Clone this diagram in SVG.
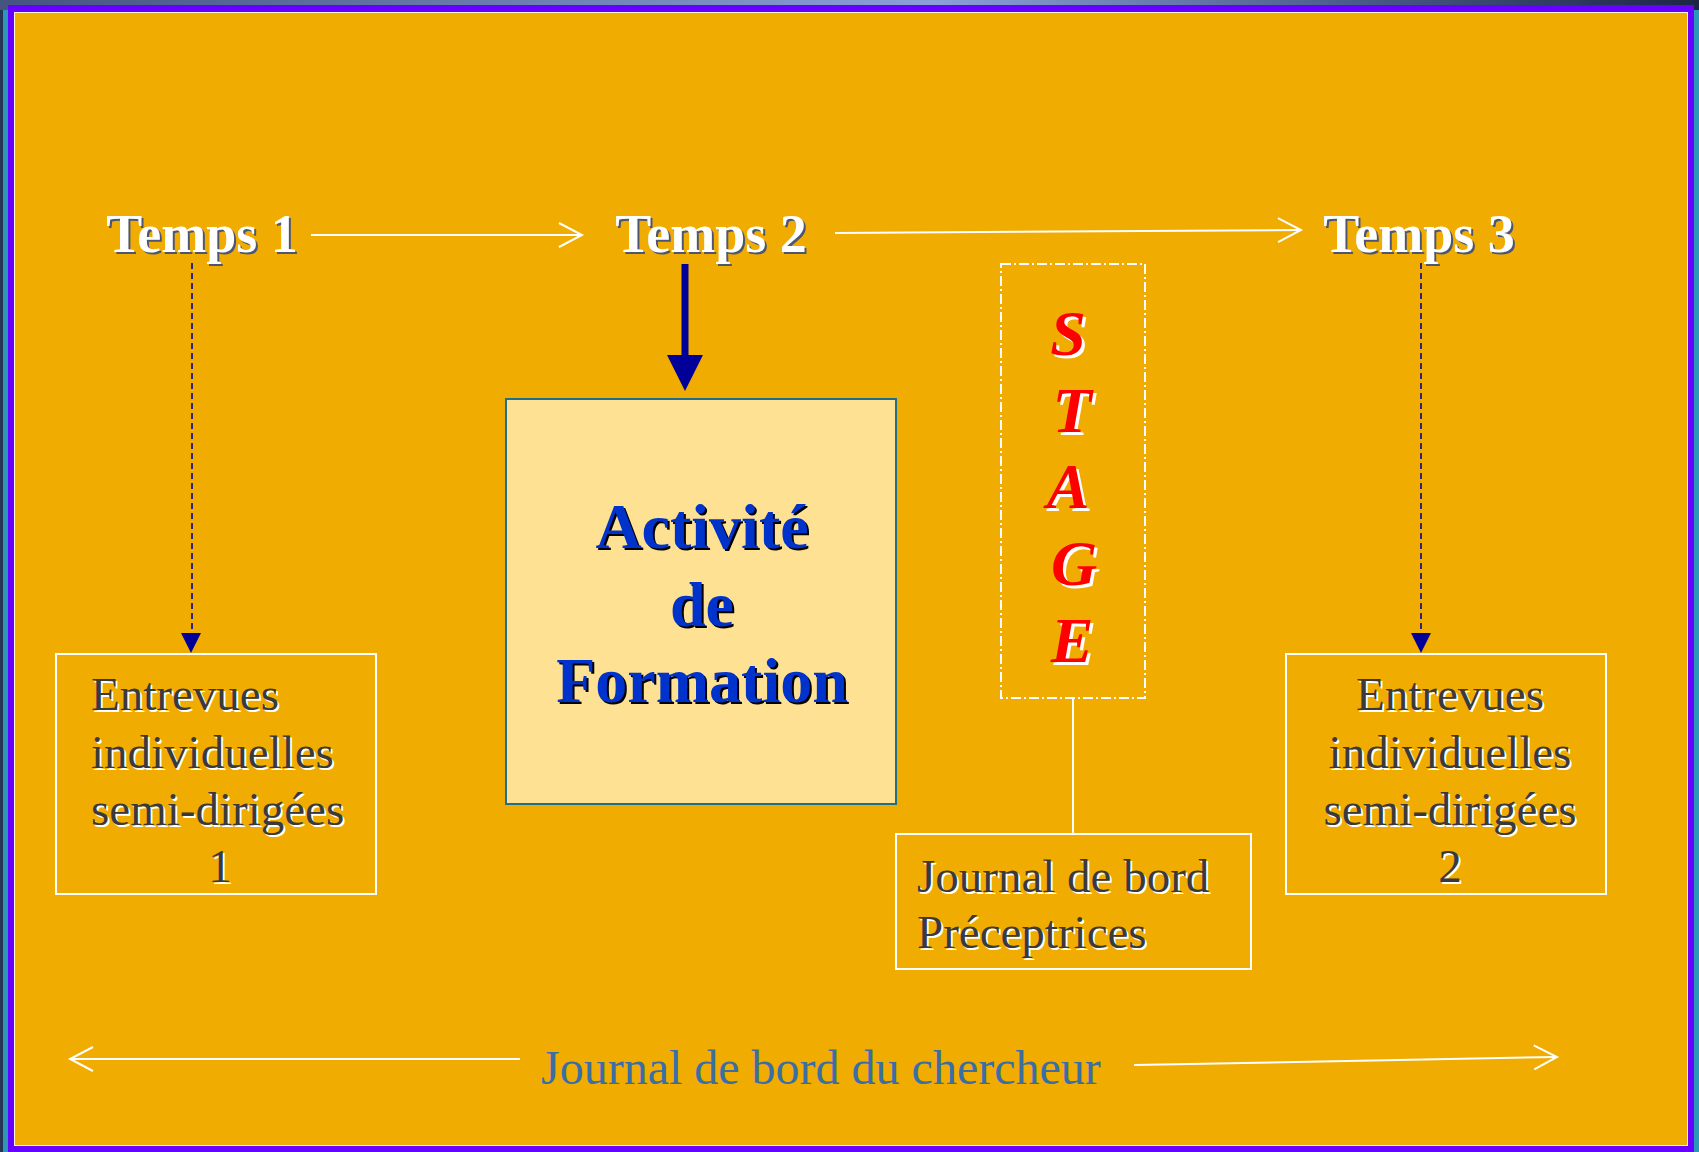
<svg xmlns="http://www.w3.org/2000/svg" width="1699" height="1152" viewBox="0 0 1699 1152">
<defs>
<linearGradient id="topg" x1="0" y1="0" x2="1" y2="0">
<stop offset="0" stop-color="#45537f"/>
<stop offset="0.55" stop-color="#8aa0d6"/>
<stop offset="0.8" stop-color="#4a5a88"/>
<stop offset="1" stop-color="#1c2644"/>
</linearGradient>
<marker id="open" markerUnits="userSpaceOnUse" markerWidth="30" markerHeight="30" refX="24" refY="13" orient="auto">
<path d="M1,1 L24,13 L1,25" fill="none" stroke="#ffffff" stroke-width="2"/>
</marker>
<marker id="tri" markerUnits="userSpaceOnUse" markerWidth="22" markerHeight="22" refX="20" refY="10" orient="auto">
<path d="M0,0 L20,10 L0,20 Z" fill="#000099"/>
</marker>
</defs>
<style>
.temps{font-family:"Liberation Serif","Times New Roman",serif;font-weight:bold;font-size:54px;text-anchor:middle}
.body{font-family:"Liberation Serif","Times New Roman",serif;font-size:47px}
.act{font-family:"Liberation Serif","Times New Roman",serif;font-weight:bold;font-size:64px;text-anchor:middle}
.stage{font-family:"Liberation Serif","Times New Roman",serif;font-weight:bold;font-style:italic;font-size:64px;text-anchor:middle}
.wline{stroke:#ffffff;stroke-width:2;fill:none}
.dash{stroke:#000099;stroke-width:1.6;stroke-dasharray:6 4;fill:none}
.box{fill:none;stroke:#ffffff;stroke-width:2}
</style>

<!-- frame -->
<rect x="0" y="0" width="1699" height="1152" fill="#283456"/>
<rect x="0" y="0" width="1699" height="10" fill="url(#topg)"/>
<rect x="3" y="10" width="1696" height="1142" fill="#2a98b6"/>
<rect x="8" y="5" width="1686" height="1147" fill="#6600ff"/>
<rect x="14.5" y="12.5" width="1673" height="1133" fill="#f0ac00" stroke="#fff4d0" stroke-width="1"/>

<!-- connectors -->
<g id="connectors">
<line class="wline" x1="311" y1="235" x2="582" y2="235" marker-end="url(#open)"/>
<line class="wline" x1="835" y1="233" x2="1301" y2="230" marker-end="url(#open)"/>
<line class="dash" x1="192" y1="263" x2="192" y2="634"/>
<path d="M181,633 L201,633 L191,653 Z" fill="#000099"/>
<line class="dash" x1="1421" y1="263" x2="1421" y2="634"/>
<path d="M1411,633 L1431,633 L1421,653 Z" fill="#000099"/>
<line x1="685" y1="264" x2="685" y2="357" stroke="#000099" stroke-width="7"/>
<path d="M667,355 L703,355 L685,391 Z" fill="#000099"/>
<line class="wline" x1="1073" y1="698" x2="1073" y2="834"/>
<line class="wline" x1="520" y1="1059" x2="70" y2="1059" marker-end="url(#open)"/>
<line class="wline" x1="1134" y1="1065" x2="1557" y2="1057" marker-end="url(#open)"/>
</g>

<!-- Temps labels -->
<g id="temps1">
<text class="temps" x="204" y="254" fill="#4d5670">Temps 1</text>
<text class="temps" x="202" y="252" fill="#ffffff">Temps 1</text>
</g>
<g id="temps2">
<text class="temps" x="713" y="254" fill="#4d5670">Temps 2</text>
<text class="temps" x="711" y="252" fill="#ffffff">Temps 2</text>
</g>
<g id="temps3">
<text class="temps" x="1421" y="254" fill="#4d5670">Temps 3</text>
<text class="temps" x="1419" y="252" fill="#ffffff">Temps 3</text>
</g>

<!-- Entrevues 1 -->
<g id="entrevues1">
<rect class="box" x="56" y="654" width="320" height="240"/>
<g class="body" fill="#ffffff" transform="translate(2,2)">
<text x="91" y="710">Entrevues</text>
<text x="91" y="768">individuelles</text>
<text x="91" y="825">semi-dirigées</text>
<text x="220" y="882" text-anchor="middle">1</text>
</g>
<g class="body" fill="#3a3a3a">
<text x="91" y="710">Entrevues</text>
<text x="91" y="768">individuelles</text>
<text x="91" y="825">semi-dirigées</text>
<text x="220" y="882" text-anchor="middle">1</text>
</g>
</g>

<!-- Activite de Formation -->
<g id="activite">
<rect x="506" y="399" width="390" height="405" fill="#ffe194" stroke="#1f6e8c" stroke-width="2"/>
<g class="act" fill="#000000" transform="translate(2,2)">
<text x="702" y="548">Activité</text>
<text x="702" y="626">de</text>
<text x="702" y="702">Formation</text>
</g>
<g class="act" fill="#0033cc">
<text x="702" y="548">Activité</text>
<text x="702" y="626">de</text>
<text x="702" y="702">Formation</text>
</g>
</g>

<!-- STAGE -->
<g id="stage">
<rect x="1001" y="264" width="144" height="434" fill="none" stroke="#ffffff" stroke-width="2" stroke-dasharray="10 3 2 3"/>
<g class="stage" fill="#ffffff" transform="translate(3,3)">
<text x="1068" y="355">S</text>
<text x="1072" y="432">T</text>
<text x="1068" y="508">A</text>
<text x="1074" y="585">G</text>
<text x="1072" y="662">E</text>
</g>
<g class="stage" fill="#ff0000">
<text x="1068" y="355">S</text>
<text x="1072" y="432">T</text>
<text x="1068" y="508">A</text>
<text x="1074" y="585">G</text>
<text x="1072" y="662">E</text>
</g>
</g>

<!-- Journal de bord Preceptrices -->
<g id="journal-preceptrices">
<rect class="box" x="896" y="834" width="355" height="135"/>
<g class="body" fill="#ffffff" transform="translate(2,2)">
<text x="917" y="892">Journal de bord</text>
<text x="917" y="948">Préceptrices</text>
</g>
<g class="body" fill="#3a3a3a">
<text x="917" y="892">Journal de bord</text>
<text x="917" y="948">Préceptrices</text>
</g>
</g>

<!-- Entrevues 2 -->
<g id="entrevues2">
<rect class="box" x="1286" y="654" width="320" height="240"/>
<g class="body" fill="#ffffff" transform="translate(2,2)" text-anchor="middle">
<text x="1450" y="710">Entrevues</text>
<text x="1450" y="768">individuelles</text>
<text x="1450" y="825">semi-dirigées</text>
<text x="1450" y="882">2</text>
</g>
<g class="body" fill="#3a3a3a" text-anchor="middle">
<text x="1450" y="710">Entrevues</text>
<text x="1450" y="768">individuelles</text>
<text x="1450" y="825">semi-dirigées</text>
<text x="1450" y="882">2</text>
</g>
</g>

<!-- Journal du chercheur -->
<g id="journal-chercheur">
<text x="541" y="1084" font-family="Liberation Serif, Times New Roman, serif" font-size="48" fill="#3a6ea5">Journal de bord du chercheur</text>
</g>
</svg>
